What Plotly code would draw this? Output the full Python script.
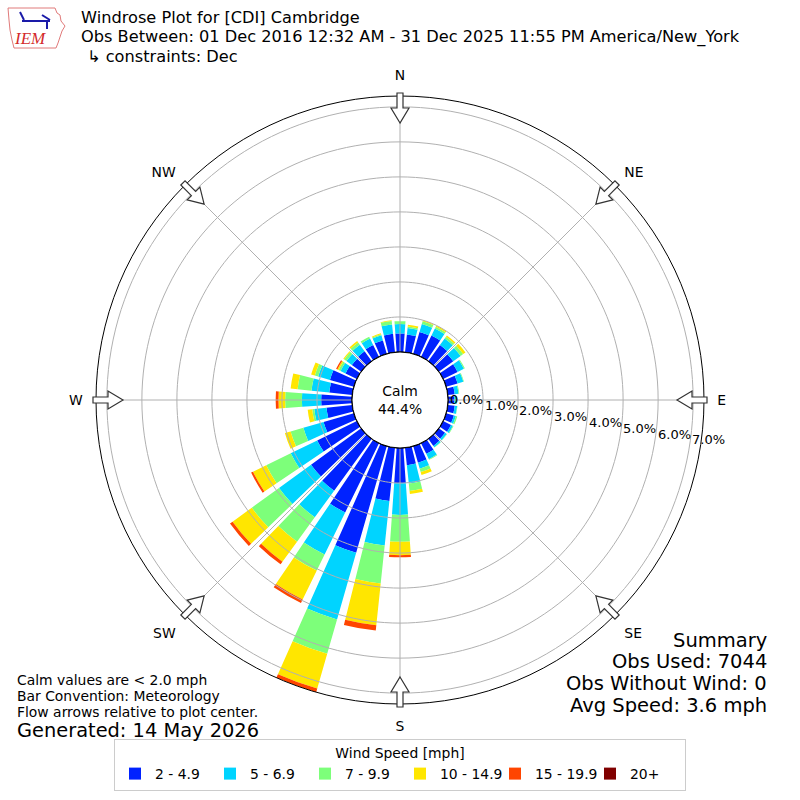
import numpy as np
import plotly.graph_objects as go

W, H = 800, 800
CX, CY = 400, 400
R_OUT = 304      # outer circle radius, px
HOLE_PX = 48     # calm circle radius, px

directions = list(range(0, 360, 10))
speed_bins = ["2 - 4.9", "5 - 6.9", "7 - 9.9", "10 - 14.9", "15 - 19.9", "20+"]
bin_colors = ["#0022ff", "#00d4ff", "#7dff7a", "#ffe600", "#ff4500", "#800000"]

# percent of observations per direction (0, 10, ... 350 deg) and speed bin
pct_2_5 = [0.53, 0.51, 0.65, 0.68, 0.57, 0.51, 0.46, 0.34, 0.20, 0.18, 0.20, 0.23,
           0.25, 0.22, 0.25, 0.34, 0.49, 0.50, 1.01, 1.53, 3.17, 2.20, 1.83, 1.77,
           1.26, 0.90, 0.74, 0.88, 0.66, 0.71, 0.36, 0.33, 0.35, 0.38, 0.40, 0.53]
pct_5_7 = [0.27, 0.19, 0.24, 0.22, 0.23, 0.26, 0.20, 0.17, 0.11, 0.07, 0.07, 0.06,
           0.06, 0.06, 0.05, 0.17, 0.18, 0.53, 0.90, 1.28, 1.98, 1.34, 0.94, 1.13,
           0.84, 0.60, 0.35, 0.55, 0.51, 0.35, 0.16, 0.19, 0.23, 0.20, 0.15, 0.27]
pct_7_10 = [0.08, 0.04, 0.08, 0.06, 0.06, 0.09, 0.03, 0.02, 0.02, 0.01, 0.01, 0.04,
            0.02, 0.01, 0.01, 0.02, 0.10, 0.21, 0.77, 1.09, 1.02, 0.51, 0.86, 0.96,
            0.78, 0.38, 0.06, 0.48, 0.40, 0.10, 0.06, 0.08, 0.08, 0.06, 0.03, 0.10]
pct_10_15 = [0.00, 0.05, 0.03, 0.04, 0.05, 0.08, 0.00, 0.00, 0.00, 0.00, 0.00, 0.00,
             0.00, 0.00, 0.00, 0.00, 0.09, 0.09, 0.38, 1.20, 1.03, 0.92, 0.71, 0.68,
             0.42, 0.17, 0.13, 0.19, 0.20, 0.11, 0.04, 0.03, 0.05, 0.00, 0.03, 0.02]
pct_15_20 = [0.00, 0.00, 0.00, 0.00, 0.00, 0.00, 0.00, 0.00, 0.00, 0.00, 0.00, 0.00,
             0.00, 0.00, 0.00, 0.00, 0.00, 0.00, 0.06, 0.15, 0.11, 0.11, 0.09, 0.09,
             0.06, 0.00, 0.00, 0.08, 0.00, 0.00, 0.04, 0.00, 0.00, 0.00, 0.00, 0.00]
pct_20_up = [0.0] * 36
speed_pct = [pct_2_5, pct_5_7, pct_7_10, pct_10_15, pct_15_20, pct_20_up]

radial_ticks = [0, 1, 2, 3, 4, 5, 6, 7]
radial_labels = ["%.1f%%" % t for t in radial_ticks]
compass_deg = [0, 45, 90, 135, 180, 225, 270, 315]
compass_txt = ["N", "NE", "E", "SE", "S", "SW", "W", "NW"]

calm_pct = 44.4
title_lines = ["Windrose Plot for [CDI] Cambridge",
               "Obs Between: 01 Dec 2016 12:32 AM - 31 Dec 2025 11:55 PM America/New_York",
               "\u21b3 constraints: Dec"]
notes = ["Calm values are < 2.0 mph", "Bar Convention: Meteorology",
         "Flow arrows relative to plot center."]
generated = "Generated: 14 May 2026"
summary = ["Summary", "Obs Used: 7044", "Obs Without Wind: 0", "Avg Speed: 3.6 mph"]

rmax = float(np.max(np.sum(np.array(speed_pct), axis=0)))
scale = (R_OUT - HOLE_PX) / rmax
GRID = "#b0b0b0"


def paper(x, y):
    return x / W, 1 - y / H


def polar_px(bearing, r):
    b = np.radians(bearing)
    return CX + r * np.sin(b), CY - r * np.cos(b)


def arrow_path(bearing):
    # hollow flow arrow pointing at the plot center
    b = np.radians(bearing)
    pts = [(277, 0), (292, -9), (292, -3), (307, -3), (307, 3), (292, 3), (292, 9)]
    out = []
    for u, v in pts:
        x = CX + u * np.sin(b) + v * np.cos(b)
        y = CY - u * np.cos(b) + v * np.sin(b)
        px, py = paper(x, y)
        out.append("%.5f,%.5f" % (px, py))
    return "M " + " L ".join(out) + " Z"


fig = go.Figure()
for name, vals, col in zip(speed_bins, speed_pct, bin_colors):
    fig.add_trace(go.Barpolar(r=vals, theta=directions, width=8, name=name,
                              marker=dict(color=col, line=dict(width=0))))

# grid drawn on top of the bars, like the matplotlib original
ring = np.arange(0, 361, 2)
for t in radial_ticks[1:]:
    fig.add_trace(go.Scatterpolar(r=[t] * len(ring), theta=ring, mode="lines",
                                  line=dict(color=GRID, width=1),
                                  showlegend=False, hoverinfo="skip"))
for d in compass_deg:
    fig.add_trace(go.Scatterpolar(r=[0, rmax], theta=[d, d], mode="lines",
                                  line=dict(color=GRID, width=1),
                                  showlegend=False, hoverinfo="skip"))
fig.add_trace(go.Scatterpolar(r=np.zeros(len(ring)), theta=ring, mode="lines",
                              line=dict(color="black", width=1.2),
                              showlegend=False, hoverinfo="skip"))

shapes = []
for d in compass_deg:
    shapes.append(dict(type="path", path=arrow_path(d), xref="paper", yref="paper",
                       fillcolor="white", line=dict(color="#333333", width=1.2)))

# rough IEM logo
iowa = [(8, 8), (55, 8), (57, 13), (60, 15), (61, 21), (65, 26), (62, 31), (60, 37),
        (58, 43), (56, 48), (14, 48), (12, 40), (10, 30), (9, 20)]
p = ["%.5f,%.5f" % paper(x, y) for x, y in iowa]
shapes.append(dict(type="path", path="M " + " L ".join(p) + " Z", xref="paper", yref="paper",
                   line=dict(color="#e07a7a", width=1)))
for (x0, y0, x1, y1) in [(22, 21, 50, 21), (20, 12, 24, 20), (42, 15, 50, 20), (47, 21, 47, 29)]:
    a0, b0 = paper(x0, y0)
    a1, b1 = paper(x1, y1)
    shapes.append(dict(type="line", x0=a0, y0=b0, x1=a1, y1=b1, xref="paper", yref="paper",
                       line=dict(color="#1a1aa8", width=2)))

annotations = []


def add_text(txt, x, y, size, xanchor="left", yanchor="middle", **kw):
    px, py = paper(x, y)
    annotations.append(dict(text=txt, x=px, y=py, xref="paper", yref="paper",
                            xanchor=xanchor, yanchor=yanchor, showarrow=False, borderpad=0,
                            font=dict(size=size, color="black", **kw)))


add_text(title_lines[0], 80, 18, 16.2)
add_text(title_lines[1], 80, 37, 16.2)
add_text(title_lines[2], 86, 56, 16.2)
add_text("IEM", 30, 39, 17, xanchor="center", family="Liberation Serif", style="italic")
annotations[-1]["font"]["color"] = "#d42a2a"

for t, lab in zip(radial_ticks, radial_labels):
    x, y = polar_px(99.5, HOLE_PX + t * scale)
    add_text(lab, x + 2, y, 13, yanchor="bottom")

add_text("Calm<br>%.1f%%" % calm_pct, CX, CY, 13.9, xanchor="center")

for i, line in enumerate(notes):
    add_text(line, 16, 680 + i * 16, 13.9)
add_text(generated, 16, 730, 19.4)
for i, line in enumerate(summary):
    add_text(line, 768, 640 + i * 21.7, 19.5, xanchor="right")

fig.update_layout(
    width=W, height=H,
    margin=dict(l=0, r=0, t=0, b=0),
    paper_bgcolor="white",
    font=dict(family="DejaVu Sans", color="black", size=13),
    polar=dict(
        domain=dict(x=[0.12, 0.88], y=[0.12, 0.88]),
        hole=HOLE_PX / R_OUT,
        bgcolor="white",
        barmode="stack",
        radialaxis=dict(range=[0, rmax], tickvals=radial_ticks[1:], showticklabels=False,
                        ticks="", showline=False, showgrid=False),
        angularaxis=dict(rotation=90, direction="clockwise", tickmode="array",
                         tickvals=compass_deg, ticktext=compass_txt, ticks="outside",
                         ticklen=10, tickcolor="rgba(0,0,0,0)", showline=True,
                         linecolor="black", linewidth=1, showgrid=False,
                         layer="above traces", tickfont=dict(size=13.9, color="black")),
    ),
    legend=dict(orientation="h", x=0.5, xanchor="center", y=9 / H, yanchor="bottom",
                title=dict(text="Wind Speed [mph]", side="top center", font=dict(size=13.9)),
                font=dict(size=13.9), bordercolor="#cccccc", borderwidth=1,
                bgcolor="white", itemwidth=30, entrywidth=50, entrywidthmode="pixels",
                traceorder="normal"),
    shapes=shapes,
    annotations=annotations,
)

fig.write_html("out.html", config={"displayModeBar": False},
               post_script="document.body.style.margin='0';")
